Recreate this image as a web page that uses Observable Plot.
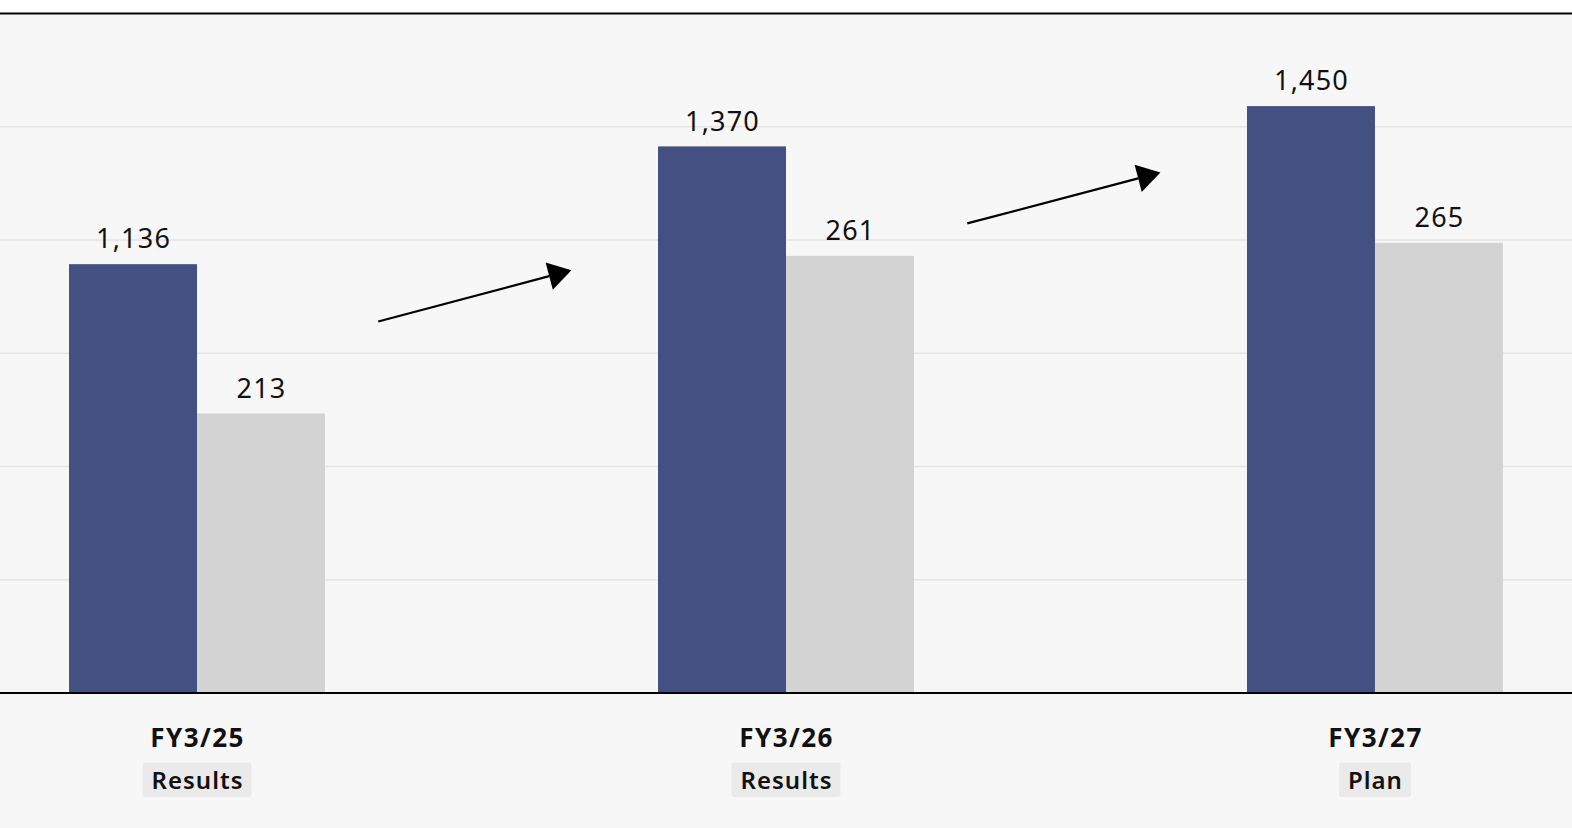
<!DOCTYPE html>
<html>
<head>
<meta charset="utf-8">
<script src="https://cdn.jsdelivr.net/npm/d3@7"></script>
<script src="https://cdn.jsdelivr.net/npm/@observablehq/plot@0.6"></script>
<style>
  html, body { margin: 0; padding: 0; background: #ffffff; overflow: hidden; }
  #chart { padding-top: 12px; }
  .value-label text { letter-spacing: 1.2px; }
  .year-label text { letter-spacing: 1.4px; }
  .stage-label text { letter-spacing: 1px; }
</style>
</head>
<body>
<div id="chart"></div>
<script>
// ---- data ----
const years = ["FY3/25", "FY3/26", "FY3/27"];
const stages = ["Results", "Results", "Plan"];
const primaryValues = [1136, 1370, 1450];   // navy bars
const secondaryValues = [213, 261, 265];    // gray bars

// hidden (unlabelled) axes of the original dual-axis chart
const primaryAxis = [285, 1635];
const secondaryAxis = [128, 335];
const gridTicks = [510, 735, 960, 1185, 1410];

// ---- build ----
const toPrimary = d3.scaleLinear(secondaryAxis, primaryAxis);
const rows = years.map((year, i) => ({
  year,
  stage: stages[i],
  primary: primaryValues[i],
  secondary: secondaryValues[i],
  secondaryOnPrimary: toPrimary(secondaryValues[i])
}));
const fmt = d3.format(",");

const W = 1572, H = 816;
const padInner = 0.5654, padOuter = 0.1172;
const bw = d3.scaleBand(years, [0, W]).paddingInner(padInner).paddingOuter(padOuter).bandwidth();

const navy = "#435082", gray = "#d3d3d3";

const plot = Plot.plot({
  width: W,
  height: H,
  marginTop: 1,
  marginBottom: 135.5,
  marginLeft: 0,
  marginRight: 0,
  style: { background: "#f8f7f7", fontFamily: "'Noto Sans', sans-serif", overflow: "visible" },
  x: { domain: years, range: [0, W], paddingInner: padInner, paddingOuter: padOuter, round: false, axis: null },
  y: { domain: primaryAxis, axis: null },
  marks: [
    Plot.ruleY(gridTicks, { stroke: "#e6e4e5", strokeWidth: 1.5 }),
    Plot.barY(rows, { x: "year", y1: primaryAxis[0], y2: "primary", fill: navy, insetRight: bw / 2 }),
    Plot.barY(rows, { x: "year", y1: primaryAxis[0], y2: "secondaryOnPrimary", fill: gray, insetLeft: bw / 2 }),
    Plot.ruleY([primaryAxis[0]], { stroke: "#000", strokeWidth: 2 }),
    Plot.ruleY([primaryAxis[1]], { stroke: "#000", strokeWidth: 2 }),
    Plot.text(rows, { x: "year", y: "primary", text: d => fmt(d.primary), dx: -bw / 4, dy: -25, lineAnchor: "middle", fontSize: 27, fill: "#111", className: "value-label" }),
    Plot.text(rows, { x: "year", y: "secondaryOnPrimary", text: d => fmt(d.secondary), dx: bw / 4, dy: -25, lineAnchor: "middle", fontSize: 27, fill: "#111", className: "value-label" }),
    Plot.text(rows, { x: "year", text: "year", frameAnchor: "bottom", lineAnchor: "top", dy: 36, fontSize: 26, fontWeight: 700, fill: "#111", className: "year-label" }),
    Plot.text(rows, { x: "year", text: "stage", frameAnchor: "bottom", lineAnchor: "top", dy: 78.5, fontSize: 24, fontWeight: 600, fill: "#111", className: "stage-label" })
  ]
});

document.getElementById("chart").appendChild(plot);

// ---- boxes behind the stage labels ----
d3.select(plot).selectAll(".stage-label text").each(function () {
  const b = this.getBBox();
  d3.select(this.parentNode).insert("rect", () => this)
    .attr("transform", this.getAttribute("transform"))
    .attr("x", b.x - 9).attr("y", b.y)
    .attr("width", b.width + 17).attr("height", b.height + 1.5)
    .attr("rx", 3).attr("fill", "#ebeaea");
});

// ---- growth arrows between groups ----
const arrows = [
  { from: "FY3/25", to: "FY3/26", y1: 1022, y2: 1124 },
  { from: "FY3/26", to: "FY3/27", y1: 1217, y2: 1318 }
];
const xs = plot.scale("x"), ys = plot.scale("y");
const g = d3.select(plot).append("g");
arrows.forEach(a => {
  const xa = xs.apply(a.from) + xs.bandwidth, xb = xs.apply(a.to);
  const x1 = xa + 0.16 * (xb - xa), x2 = xa + 0.74 * (xb - xa);
  const y1 = ys.apply(a.y1), y2 = ys.apply(a.y2);
  const len = Math.hypot(x2 - x1, y2 - y1);
  const ux = (x2 - x1) / len, uy = (y2 - y1) / len;
  const hl = 23, hw = 14;
  const bx = x2 - hl * ux, by = y2 - hl * uy;
  g.append("line").attr("x1", x1).attr("y1", y1).attr("x2", bx).attr("y2", by)
    .attr("stroke", "#000").attr("stroke-width", 2.2);
  g.append("path")
    .attr("d", `M${x2},${y2}L${bx - hw * uy},${by + hw * ux}L${bx + hw * uy},${by - hw * ux}Z`)
    .attr("fill", "#000");
});
</script>
</body>
</html>
